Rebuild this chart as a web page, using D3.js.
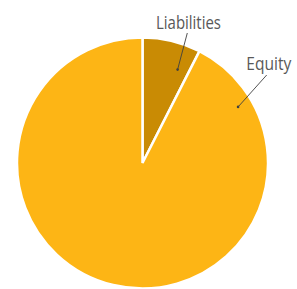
<!DOCTYPE html>
<html>
<head>
<meta charset="utf-8">
<script src="https://cdn.jsdelivr.net/npm/d3@7"></script>
<style>
  body { margin: 0; background: #fff; }
  text { font-family: "Open Sans", sans-serif; }
</style>
</head>
<body>
<svg id="chart"></svg>
<script>
// Data
const categories = ["Liabilities", "Equity"];
const values = [7.5, 92.5];
const colors = ["#C98B04", "#FDB515"];

// SVG setup
const width = 297;
const height = 289;
const cx = 142.5, cy = 163, radius = 125.5;

const svg = d3.select("#chart")
  .attr("width", width)
  .attr("height", height);

const data = categories.map((c, i) => ({ name: c, value: values[i], color: colors[i] }));

const pie = d3.pie().sort(null).value(d => d.value);
const arcs = pie(data);

const arc = d3.arc().innerRadius(0).outerRadius(radius);

const g = svg.append("g").attr("transform", `translate(${cx},${cy})`);

// Slices
g.selectAll("path.slice")
  .data(arcs)
  .enter()
  .append("path")
  .attr("class", "slice")
  .attr("d", arc)
  .attr("fill", d => d.data.color)
  .attr("stroke", "#fff")
  .attr("stroke-width", 2.5)
  .attr("stroke-linejoin", "miter");

// Labels with leader lines (manually placed, like the source)
// angle in degrees clockwise from top, radial fraction for the dot, text spot, line start
const labelLayout = [
  { angle: 20.6, r: 0.795, tx: 46, ty: -134, w: 65, lx: 44.8, ly: -130 },
  { angle: 59.6, r: 0.883, tx: 126.3, ty: -93, w: 45, lx: 124.2, ly: -88 }
];

arcs.forEach((d, i) => {
  const L = labelLayout[i];
  const a = L.angle * Math.PI / 180;
  const px = Math.sin(a) * radius * L.r;
  const py = -Math.cos(a) * radius * L.r;

  g.append("line")
    .attr("x1", L.lx).attr("y1", L.ly)
    .attr("x2", px).attr("y2", py)
    .attr("stroke", "#404040")
    .attr("stroke-width", 0.9);

  g.append("circle")
    .attr("cx", px).attr("cy", py)
    .attr("r", 1.3)
    .attr("fill", "#404040");

  g.append("text")
    .attr("x", L.tx).attr("y", L.ty)
    .attr("text-anchor", "middle")
    .attr("font-size", 18)
    .attr("textLength", L.w)
    .attr("lengthAdjust", "spacingAndGlyphs")
    .attr("fill", "#595959")
    .text(d.data.name);
});
</script>
</body>
</html>
